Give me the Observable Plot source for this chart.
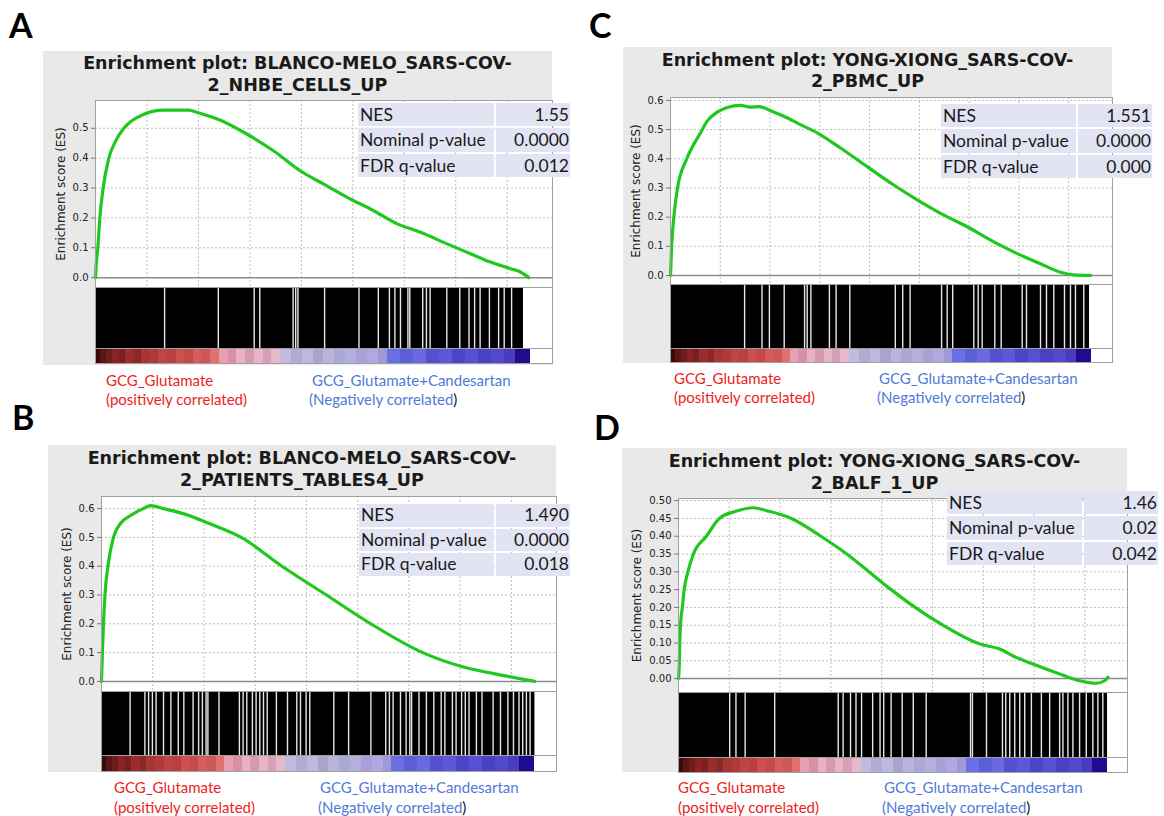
<!DOCTYPE html>
<html><head><meta charset="utf-8">
<script src="https://cdn.jsdelivr.net/npm/d3@7"></script>
<script src="https://cdn.jsdelivr.net/npm/@observablehq/plot@0.6"></script>
<style>
html,body{margin:0;padding:0;background:#fff;}
#root{position:relative;width:1164px;height:816px;overflow:hidden;}
#root > div{position:absolute;white-space:nowrap;}
</style></head><body><div id="root"></div>
<script>
// ---------------- DATA ----------------
const statLabels = ["NES", "Nominal p-value", "FDR q-value"];
const xGridTicks = [2500, 5000, 7500, 10000, 12500, 15000, 17500, 20000];
const listSize = 21140;

// Panel A
const titleA = ["Enrichment plot: BLANCO-MELO_SARS-COV-", "2_NHBE_CELLS_UP"];
const statsA = ["1.55", "0.0000", "0.012"];
const yTicksA = [0, 0.1, 0.2, 0.3, 0.4, 0.5];
const esRankA = [0, 40, 113, 210, 372, 648, 971, 1376, 1700, 2105, 2671, 3238, 4129, 4532, 4940, 6072, 7369, 8661, 9958, 11090, 12227, 13519, 14656, 15788, 17084, 18216, 19188, 20159, 20645, 21048];
const esScoreA = [0, 0.05, 0.10, 0.20, 0.30, 0.40, 0.456, 0.50, 0.522, 0.539, 0.555, 0.561, 0.561, 0.561, 0.553, 0.527, 0.48, 0.424, 0.357, 0.313, 0.269, 0.224, 0.18, 0.152, 0.113, 0.08, 0.052, 0.03, 0.019, 0.0];
const gapsA = [3356, 5965, 7709, 7981, 9599, 9725, 9832, 11129, 12800, 13738, 14277, 14544, 14816, 15176, 15268, 15895, 16075, 16255, 17066, 17697, 18144, 18416, 18683, 19135, 19582, 19854, 20213];
const lastHitA = 20790;

// Panel B
const titleB = ["Enrichment plot: BLANCO-MELO_SARS-COV-", "2_PATIENTS_TABLES4_UP"];
const statsB = ["1.490", "0.0000", "0.018"];
const yTicksB = [0, 0.1, 0.2, 0.3, 0.4, 0.5, 0.6];
const esRankB = [0, 42, 96, 168, 313, 584, 945, 1397, 2029, 2390, 3023, 4107, 5191, 6817, 8805, 10973, 13141, 15671, 17658, 19646, 21140];
const esScoreB = [0, 0.10, 0.20, 0.30, 0.40, 0.50, 0.55, 0.575, 0.60, 0.61, 0.60, 0.58, 0.55, 0.50, 0.40, 0.30, 0.20, 0.10, 0.05, 0.02, 0.0];
const gapsB = [1396, 2118, 2298, 2483, 2664, 3025, 3386, 3747, 4016, 4469, 4738, 4923, 5103, 5191, 5733, 6728, 6909, 7089, 7363, 7543, 7723, 7904, 8085, 8534, 9075, 9529, 9709, 9983, 10163, 11334, 12056, 13144, 13867, 14047, 14228, 14588, 14861, 15042, 15130, 15491, 15852, 16213, 16574, 16755, 17121, 17301, 17570, 17750, 17931, 18292, 18565, 19107, 19467, 19828, 20101, 20370, 20551, 20731, 20912];
const lastHitB = 21146;

// Panel C
const titleC = ["Enrichment plot: YONG-XIONG_SARS-COV-", "2_PBMC_UP"];
const statsC = ["1.551", "0.0000", "0.000"];
const yTicksC = [0, 0.1, 0.2, 0.3, 0.4, 0.5, 0.6];
const esRankC = [0, 56, 167, 353, 818, 1507, 1843, 2346, 2848, 3516, 4018, 4435, 5188, 5691, 6529, 7368, 8538, 9879, 11215, 12391, 13561, 14902, 16238, 17414, 18584, 19588, 20256, 21095];
const esScoreC = [0, 0.10, 0.20, 0.30, 0.40, 0.489, 0.529, 0.560, 0.576, 0.583, 0.577, 0.579, 0.560, 0.546, 0.517, 0.489, 0.437, 0.373, 0.31, 0.259, 0.213, 0.167, 0.115, 0.075, 0.040, 0.011, 0.002, 0.0];
const gapsC = [3722, 4596, 4967, 5711, 6735, 6866, 7052, 7981, 8317, 9006, 11291, 11663, 12034, 13616, 13897, 14174, 15233, 15454, 15655, 16288, 16609, 17664, 17880, 18584, 18885, 19252, 19789, 20090, 20341, 20758];
const lastHitC = 21045;

// Panel D
const titleD = ["Enrichment plot: YONG-XIONG_SARS-COV-", "2_BALF_1_UP"];
const statsD = ["1.46", "0.02", "0.042"];
const yTicksD = [0, 0.05, 0.10, 0.15, 0.20, 0.25, 0.30, 0.35, 0.40, 0.45, 0.50];
const esRankD = [0, 44, 62, 98, 189, 280, 462, 735, 1372, 2009, 2827, 3645, 4464, 5555, 7010, 8283, 9375, 10466, 11648, 13013, 14831, 15813, 16600, 17449, 18760, 19742, 20562, 20969, 21140];
const esScoreD = [0, 0.05, 0.10, 0.15, 0.20, 0.25, 0.30, 0.35, 0.40, 0.45, 0.47, 0.48, 0.47, 0.45, 0.40, 0.35, 0.30, 0.25, 0.20, 0.15, 0.097, 0.083, 0.06, 0.041, 0.013, -0.006, -0.013, -0.006, 0.004];
const gapsD = [2519, 2828, 3280, 4734, 7862, 8103, 8466, 8736, 9011, 9556, 9920, 10101, 10465, 11010, 11555, 12193, 14374, 14467, 15160, 15946, 16108, 16304, 16550, 16795, 17041, 17370, 17861, 18268, 18760, 18922, 19167, 19413, 19742, 20071, 20395, 20641, 20886];
const lastHitD = 21117;

// Ranked-list colour bar (fraction of list, colour)
const rankBarEdges = [0, 0.012, 0.025, 0.040, 0.055, 0.070, 0.090, 0.105, 0.125, 0.145, 0.165, 0.185, 0.205, 0.225, 0.245, 0.265, 0.285, 0.305, 0.325, 0.345, 0.365, 0.385, 0.405, 0.425, 0.450, 0.475, 0.500, 0.525, 0.550, 0.575, 0.600, 0.625, 0.650, 0.670, 0.700, 0.730, 0.760, 0.790, 0.820, 0.850, 0.880, 0.910, 0.940, 0.965, 1.0];
const rankBarColors = ["#3a0a0a", "#5a1515", "#6e1c1c", "#8a2424", "#7a2020", "#9a2c2c", "#8a2828", "#a83434", "#b03a3a", "#c04444", "#b84040", "#cc5050", "#c44a4a", "#d45c5c", "#cc5858", "#e07070", "#e8a0b0", "#d890a8", "#eab0c4", "#d898b0", "#e8b4c8", "#d8a0b8", "#e6b8cc", "#c0bce0", "#b0acd4", "#bcb8de", "#a8a4cc", "#b8b4dc", "#aca8d4", "#b4b0dc", "#a8a0d6", "#b0a8e0", "#a098d8", "#6a70e4", "#5c60d8", "#6a6ae0", "#5450d0", "#5e58d8", "#4c44c8", "#5850d4", "#4a40c4", "#5248cc", "#4a3cc0", "#1e0c8c"];

const posLabel = ["GCG_Glutamate", "(positively correlated)"];
const negLabel = ["GCG_Glutamate+Candesartan", "(Negatively correlated", ")"];

// ---------------- LAYOUT ----------------
const layout = {
  A: {letter: [9, 5], box: [43, 51, 552, 365], titleY: [63, 85], left: 95, right: 552, top: 100, esBottom: 287, barBottom: 348, gradBottom: 363, xMax: 22200, yDomain: [-0.033, 0.593], yFmt: ".1f", labelDx: -34, table: [358, 103, 570, 179, 496], labY: [380, 399], redX: 106, blueX: 312, blue2X: 309},
  C: {letter: [589, 5], box: [623, 47, 1112, 363], titleY: [60, 81], left: 670, right: 1112, top: 97, esBottom: 284, barBottom: 348, gradBottom: 362, xMax: 22200, yDomain: [-0.031, 0.610], yFmt: ".1f", labelDx: -34, table: [941, 104, 1152, 180, 1078], labY: [378, 397], redX: 674, blueX: 879, blue2X: 877},
  B: {letter: [12, 397], box: [48, 445, 556, 772], titleY: [458, 480], left: 101, right: 556, top: 496, esBottom: 691, barBottom: 755, gradBottom: 771, xMax: 22200, yDomain: [-0.035, 0.642], yFmt: ".1f", labelDx: -34, table: [359, 504, 570, 578, 496], labY: [787, 807], redX: 114, blueX: 320, blue2X: 318},
  D: {letter: [594, 407], box: [622, 448, 1127, 772], titleY: [461, 483], left: 678, right: 1127, top: 498, esBottom: 692, barBottom: 757, gradBottom: 772, xMax: 22100, yDomain: [-0.039, 0.506], yFmt: ".2f", labelDx: -41, table: [947, 491, 1158, 567, 1084], labY: [787, 807], redX: 678, blueX: 884, blue2X: 882}
};

const panels = {
  A: {title: titleA, stats: statsA, yTicks: yTicksA, rank: esRankA, score: esScoreA, gaps: gapsA, lastHit: lastHitA},
  B: {title: titleB, stats: statsB, yTicks: yTicksB, rank: esRankB, score: esScoreB, gaps: gapsB, lastHit: lastHitB},
  C: {title: titleC, stats: statsC, yTicks: yTicksC, rank: esRankC, score: esScoreC, gaps: gapsC, lastHit: lastHitC},
  D: {title: titleD, stats: statsD, yTicks: yTicksD, rank: esRankD, score: esScoreD, gaps: gapsD, lastHit: lastHitD}
};

const root = document.getElementById("root");
function div(style, text) {
  const e = document.createElement("div");
  Object.assign(e.style, style);
  if (text != null) e.textContent = text;
  root.appendChild(e);
  return e;
}
function place(svg, x, y) {
  const w = div({left: x + "px", top: y + "px", lineHeight: 0});
  svg.style.maxWidth = "none";
  svg.style.background = "transparent";
  svg.style.overflow = "visible";
  svg.style.fontFamily = "'DejaVu Sans', sans-serif";
  w.appendChild(svg);
}

const rankSegs = rankBarColors.map((c, i) => ({x1: rankBarEdges[i] * listSize, x2: rankBarEdges[i + 1] * listSize, color: c}));

function drawPanel(key) {
  const L = layout[key], P = panels[key];
  // letter
  div({left: L.letter[0] + "px", top: L.letter[1] + "px", font: "bold 34px Lato, sans-serif", color: "#000", lineHeight: "40px"}, key);
  // grey box
  div({left: L.box[0] + "px", top: L.box[1] + "px", width: (L.box[2] - L.box[0]) + "px", height: (L.box[3] - L.box[1]) + "px", background: "#e9e9e9"});
  // title
  const cx = (L.box[0] + L.box[2]) / 2;
  P.title.forEach((t, i) => div({left: cx + "px", top: L.titleY[i] + "px", transform: "translate(-50%,-50%)", font: "bold 17.5px 'DejaVu Sans', sans-serif", color: "#1a1a1a"}, t));

  const ml = 60, w = L.right - L.left;
  const xs = {domain: [0, L.xMax], axis: null};
  const es = P.rank.map((r, i) => ({rank: r, es: P.score[i]}));
  const fmt = d3.format(L.yFmt);
  const esPlot = Plot.plot({
    width: w + ml, height: L.esBottom - L.top,
    marginLeft: ml, marginRight: 0, marginTop: 0, marginBottom: 0,
    x: xs, y: {domain: L.yDomain, axis: null},
    marks: [
      Plot.frame({fill: "white"}),
      Plot.gridX(xGridTicks, {stroke: "#bdbdbd", strokeOpacity: 1, strokeDasharray: "2,2"}),
      Plot.gridY(P.yTicks.filter(v => v !== 0), {stroke: "#bdbdbd", strokeOpacity: 1, strokeDasharray: "2,2"}),
      Plot.ruleY([0], {stroke: "#8c8c8c", strokeWidth: 1.5}),
      Plot.axisY(P.yTicks, {tickFormat: fmt, tickSize: 4, tickPadding: 3, fontSize: 10, label: null, stroke: "#777", fill: "#222"}),
      Plot.text(["Enrichment score (ES)"], {frameAnchor: "left", textAnchor: "middle", rotate: -90, dx: L.labelDx, fontSize: 12, fill: "#222"}),
      Plot.line(es, {x: "rank", y: "es", stroke: "#1fc81f", strokeWidth: 3.2, curve: "monotone-x"}),
      Plot.frame({stroke: "#a0a0a0"})
    ]
  });
  place(esPlot, L.left - ml, L.top);

  const barPlot = Plot.plot({
    width: w + ml, height: L.barBottom - L.esBottom,
    marginLeft: ml, marginRight: 0, marginTop: 0, marginBottom: 0,
    x: xs, y: {domain: [0, 1], axis: null},
    marks: [
      Plot.frame({fill: "white"}),
      Plot.rect([{x1: 0, x2: P.lastHit}], {x1: "x1", x2: "x2", y1: 0, y2: 1, fill: "black"}),
      Plot.ruleX(P.gaps, {x: d => d, y1: 0, y2: 1, stroke: "#e6e6e6", strokeWidth: 1.4}),
      Plot.frame({stroke: "#a0a0a0"})
    ]
  });
  place(barPlot, L.left - ml, L.esBottom);

  const gradPlot = Plot.plot({
    width: w + ml, height: L.gradBottom - L.barBottom,
    marginLeft: ml, marginRight: 0, marginTop: 0, marginBottom: 0,
    x: xs, y: {domain: [0, 1], axis: null}, color: {type: "identity"},
    marks: [
      Plot.frame({fill: "white"}),
      Plot.rect(rankSegs, {x1: "x1", x2: "x2", y1: 0, y2: 1, fill: "color", shapeRendering: "crispEdges"}),
      Plot.frame({stroke: "#a0a0a0"})
    ]
  });
  place(gradPlot, L.left - ml, L.barBottom);

  // stats table
  const [tx1, ty1, tx2, ty2, tdiv] = L.table;
  const rh = (ty2 - ty1) / 3;
  const tf = "17.5px Lato, sans-serif";
  statLabels.forEach((lab, i) => {
    const top = ty1 + i * rh;
    div({left: tx1 + "px", top: top + "px", width: (tdiv - tx1 - 2) + "px", height: (rh - 2) + "px", background: "#e2e4f3", font: tf, color: "#1a1a1a", lineHeight: (rh - 2) + "px", paddingLeft: "2px", boxSizing: "border-box"}, lab);
    div({left: tdiv + "px", top: top + "px", width: (tx2 - tdiv) + "px", height: (rh - 2) + "px", background: "#e2e4f3", font: tf, color: "#1a1a1a", lineHeight: (rh - 2) + "px", textAlign: "right", paddingRight: "1px", boxSizing: "border-box"}, P.stats[i]);
  });

  // phenotype labels
  const lf = "15px Lato, sans-serif";
  posLabel.forEach((t, i) => div({left: L.redX + "px", top: L.labY[i] + "px", transform: "translateY(-50%)", font: lf, color: "#ee2222"}, t));
  div({left: L.blueX + "px", top: L.labY[0] + "px", transform: "translateY(-50%)", font: lf, color: "#4f7ad8"}, negLabel[0]);
  const nl = div({left: L.blue2X + "px", top: L.labY[1] + "px", transform: "translateY(-50%)", font: lf, color: "#4f7ad8"}, negLabel[1]);
  const close = document.createElement("span");
  close.style.color = "#111";
  close.textContent = negLabel[2];
  nl.appendChild(close);
}

["A", "B", "C", "D"].forEach(drawPanel);
</script></body></html>
